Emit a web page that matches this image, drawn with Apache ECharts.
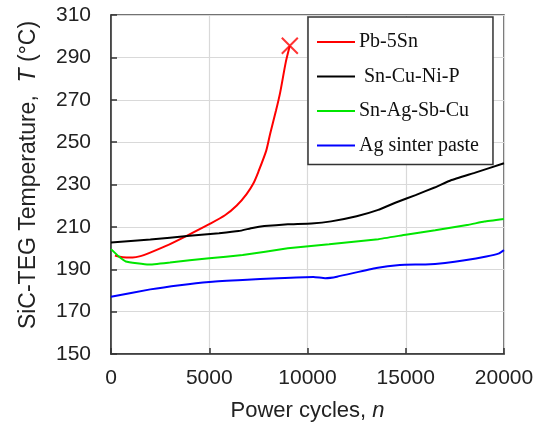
<!DOCTYPE html>
<html>
<head>
<meta charset="utf-8">
<script src="https://cdn.jsdelivr.net/npm/echarts@6/dist/echarts.min.js"></script>
<style>html,body{margin:0;padding:0;background:#fff}#c{width:543px;height:432px}</style>
</head>
<body>
<div id="c"></div>
<script>
// ---- data ----
var seriesNames = ['Pb-5Sn', 'Sn-Cu-Ni-P', 'Sn-Ag-Sb-Cu', 'Ag sinter paste'];
var pbSn = [[200,196.5],[600,195.7],[1100,195.6],[1500,196.2],[1900,197.5],[2800,201],[3850,205.8],[5000,211.3],[5800,215.5],[6400,220.1],[6900,225.5],[7250,230.6],[7500,236],[7900,246],[8100,254],[8400,265],[8600,273],[8900,288],[9100,295.5]];
var pbSnFailure = [[9100,295.5]];
var snCuNiP = [[0,202.6],[2000,204],[4000,205.8],[5500,207],[6500,208],[7200,209.5],[7800,210.4],[9000,211.2],[10200,211.6],[11200,212.6],[12500,215],[13600,218],[14500,221.5],[15500,225],[16500,228.7],[17300,232],[18500,235.5],[20000,240]];
var snAgSbCu = [[0,199.5],[400,196],[750,193.7],[1900,192.2],[3000,193.2],[5000,195.2],[6700,196.7],[9000,199.9],[11100,201.8],[13600,204.2],[15000,206.3],[16500,208.4],[18200,211],[19000,212.5],[20000,213.7]];
var agSinter = [[0,177],[2000,180.5],[3500,182.5],[5000,184],[6700,184.9],[8500,185.8],[10300,186.4],[10900,185.8],[11500,186.5],[13500,190.6],[14700,192],[16000,192.3],[17000,193],[18000,194.2],[19100,196],[19750,197.5],[20000,199]];
var yTicks = [150,170,190,210,230,250,270,290,310];
var xTicks = [0,5000,10000,15000,20000];

var colors = ['#ff0000', '#000000', '#00e600', '#0000ff'];
var chart = echarts.init(document.getElementById('c'));
function lineSeries(name, data, color, smooth) {
  return {
    name: name, type: 'line', data: data, showSymbol: false, symbol: 'none',
    smooth: smooth, lineStyle: { color: color, width: 2 }, itemStyle: { color: color },
    z: 3
  };
}
chart.setOption({
  animation: false,
  backgroundColor: '#fff',
  grid: { left: 111, right: 39, top: 15, bottom: 78, show: true, borderColor: '#444', borderWidth: 1.5, backgroundColor: 'transparent' },
  legend: {
    orient: 'vertical', left: 308, top: 17,
    padding: [15, 14, 9, 9],
    icon: 'rect',
    itemWidth: 38, itemHeight: 2, itemGap: 14.5,
    borderColor: '#333', borderWidth: 1.5, backgroundColor: '#fff',
    data: seriesNames,
    formatter: function (n) { return n === 'Sn-Cu-Ni-P' ? ' ' + n : n; },
    textStyle: { fontFamily: 'Liberation Serif', fontSize: 20, lineHeight: 20, color: '#111', padding: [0, 0, 0, -1] }
  },
  xAxis: {
    type: 'value', min: 0, max: 20000, interval: 5000,
    name: 'Power cycles, {i|n}', nameLocation: 'middle', nameGap: 46,
    nameTextStyle: { fontFamily: 'Liberation Sans', fontSize: 22, color: '#222',
      rich: { i: { fontFamily: 'Liberation Sans', fontStyle: 'italic', fontSize: 22, color: '#222' } } },
    axisLine: { show: true, lineStyle: { color: '#333', width: 1.5 } },
    axisTick: { show: true, inside: true, length: 6, lineStyle: { color: '#333', width: 1.5 }, customValues: xTicks },
    axisLabel: { fontFamily: 'Liberation Sans', fontSize: 21, color: '#222', margin: 14, customValues: xTicks,
      formatter: function (v) { return String(v); } },
    splitLine: { show: true, lineStyle: { color: '#d9d9d9', width: 1.2 } }
  },
  yAxis: {
    type: 'value', min: 150, max: 310,
    name: 'SiC-TEG Temperature,  {i|T} (°C)', nameLocation: 'middle', nameGap: 71,
    nameTextStyle: { fontFamily: 'Liberation Sans', fontSize: 23, color: '#222', padding: [0, 0, 0, 19],
      rich: { i: { fontFamily: 'Liberation Sans', fontStyle: 'italic', fontSize: 23, color: '#222' } } },
    axisLine: { show: true, lineStyle: { color: '#333', width: 1.5 } },
    axisTick: { show: true, inside: true, length: 6, lineStyle: { color: '#333', width: 1.5 }, customValues: yTicks },
    axisLabel: { fontFamily: 'Liberation Sans', fontSize: 21, color: '#222', margin: 20, customValues: yTicks,
      formatter: function (v) { return String(v); } },
    splitLine: { show: true, lineStyle: { color: '#d9d9d9', width: 1.2 } }
  },
  series: [
    lineSeries(seriesNames[0], pbSn, colors[0], 0.25),
    lineSeries(seriesNames[1], snCuNiP, colors[1], 0.1),
    lineSeries(seriesNames[2], snAgSbCu, colors[2], 0.1),
    lineSeries(seriesNames[3], agSinter, colors[3], 0.15),
    {
      name: 'failure', type: 'scatter', data: pbSnFailure,
      symbol: 'path://M0,0L10,10M10,0L0,10', symbolSize: 16,
      itemStyle: { color: 'rgba(0,0,0,0)', borderColor: '#ff0000', borderWidth: 2 },
      z: 4, silent: true
    }
  ]
});
</script>
</body>
</html>
